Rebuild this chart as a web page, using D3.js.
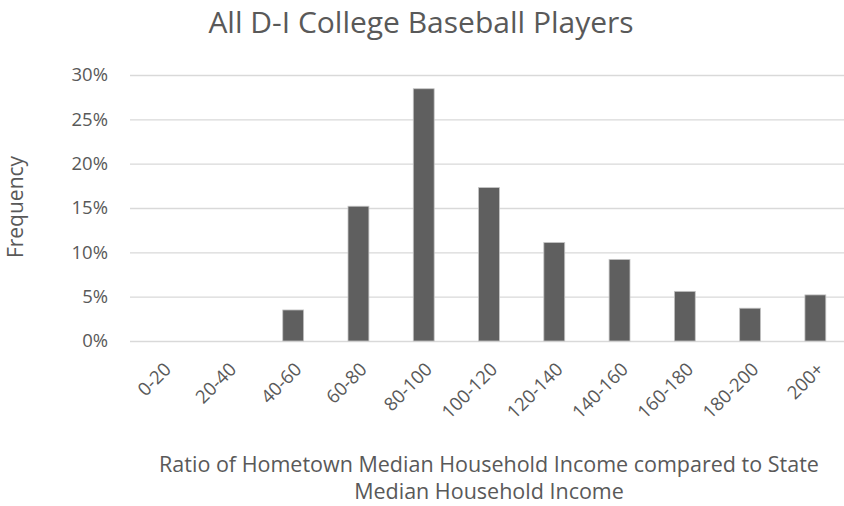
<!DOCTYPE html>
<html><head><meta charset="utf-8">
<script src="https://cdn.jsdelivr.net/npm/d3@7/dist/d3.min.js"></script>
<style>body{margin:0;background:#fff}svg{display:block}text{font-family:"Open Sans",sans-serif;fill:#595959}</style>
</head><body>
<script>
const categories = ["0-20","20-40","40-60","60-80","80-100","100-120","120-140","140-160","160-180","180-200","200+"];
const values = [0,0,0.035,0.152,0.2845,0.173,0.111,0.092,0.056,0.037,0.052];
const yTicks = [0,0.05,0.10,0.15,0.20,0.25,0.30];
const titleText = "All D-I College Baseball Players";
const yTitle = "Frequency";
const xTitleLines = ["Ratio of Hometown Median Household Income compared to State","Median Household Income"];

const W=844,H=506;
const m={left:130,right:-4,top:75,bottom:165};
const svg=d3.select("body").append("svg").attr("width",W).attr("height",H);
const x=d3.scaleBand().domain(categories).range([m.left,W-m.right]).paddingInner(0.68).paddingOuter(0.34);
const y=d3.scaleLinear().domain([0,0.30]).range([H-m.bottom,m.top]);

// gridlines
const yAxis=d3.axisLeft(y).tickValues(yTicks).tickFormat(d3.format(".0%")).tickSize(-(W-m.right-m.left)).tickPadding(22);
const gy=svg.append("g").attr("transform",`translate(${m.left},0)`).call(yAxis);
gy.select(".domain").remove();
gy.selectAll(".tick line").attr("stroke","#d9d9d9").attr("stroke-width",1.4);
gy.selectAll(".tick text").style("font-size","18.5px").attr("fill","#595959");

svg.append("g").selectAll("rect").data(values).join("rect")
  .attr("x",(d,i)=>x(categories[i]))
  .attr("width",x.bandwidth())
  .attr("y",d=>y(d))
  .attr("height",d=>y(0)-y(d))
  .attr("fill","#5f5f5f")
  .attr("stroke",d=>d>0?"#c4c4c4":"none")
  .attr("stroke-width",0.8);

// x labels
const xAxis=d3.axisBottom(x).tickSize(0).tickPadding(0);
const gx=svg.append("g").attr("transform",`translate(0,${y(0)})`).call(xAxis);
gx.select(".domain").remove();
gx.selectAll(".tick text")
  .attr("text-anchor","end")
  .attr("dy","0.35em")
  .attr("transform","translate(5,25) rotate(-45)")
  .style("font-size","18.5px").attr("fill","#595959");

svg.append("text").attr("x",421).attr("y",33).attr("text-anchor","middle").style("font-size","30px").text(titleText);
svg.append("text").attr("transform","translate(23,207) rotate(-90)").attr("text-anchor","middle").style("font-size","21px").text(yTitle);
const xt=svg.append("text").attr("text-anchor","middle").style("font-size","21.5px");
xt.selectAll("tspan").data(xTitleLines).join("tspan")
  .attr("x",(m.left+W-m.right)/2).attr("y",(d,i)=>472+i*27).text(d=>d);
</script>
</body></html>
